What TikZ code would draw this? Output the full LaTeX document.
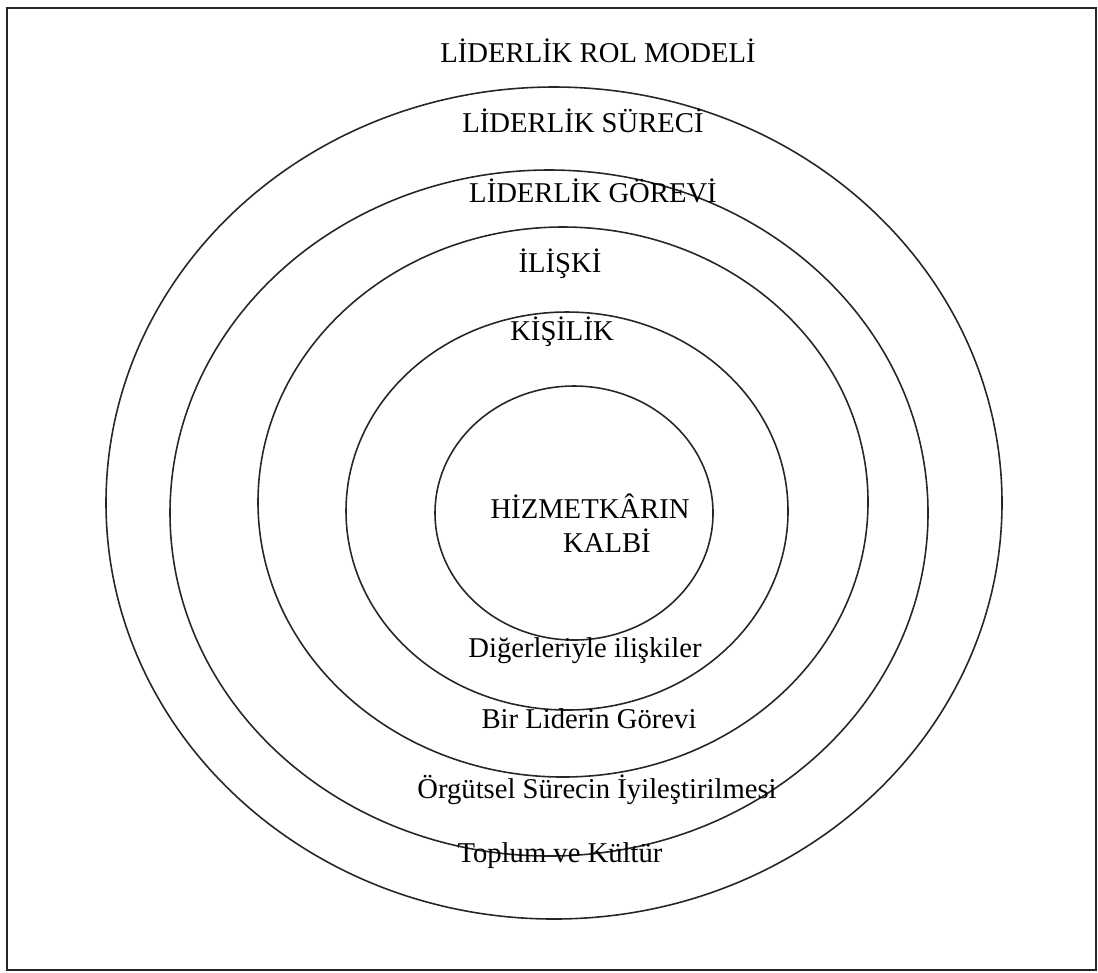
\documentclass[tikz,border=0pt]{standalone}
\usepackage{fontspec}
\setmainfont{Liberation Serif}
\usepackage{tikz}
\usetikzlibrary{calc}
\tikzset{
  ring/.style={draw=black!85, line width=0.45pt},
  frame/.style={draw=black!85, line width=0.6pt},
  lbl/.style={font=\fontsize{8.15}{9.8}\selectfont, text=black, anchor=base, inner sep=0pt},
}

\begin{document}
\begin{tikzpicture}[x=0.01cm, y=-0.01cm]
  \useasboundingbox (0,0) rectangle (1098,972);
  \draw[frame] (7,8) rectangle (1096,970);

  % Rings
  \draw[ring] (554,503) ellipse [x radius=448, y radius=416];
  \draw[ring] (549,513) ellipse [x radius=379, y radius=343];
  \draw[ring] (563,502) ellipse [x radius=305, y radius=275];
  \draw[ring] (567,511) ellipse [x radius=221, y radius=199];
  \draw[ring] (574,513) ellipse [x radius=139, y radius=127];

  % Upper labels
  \node[lbl] (rol) at (598,62) {LİDERLİK ROL MODELİ};
  \node[lbl] (surec) at (583,132) {LİDERLİK SÜRECİ};
  \node[lbl] (gorev) at (593,202) {LİDERLİK GÖREVİ};
  \node[lbl] (iliski) at (560,272) {İLİŞKİ};
  \node[lbl] (kisilik) at (562,340) {KİŞİLİK};

  % Core
  \node[lbl] (hizmet) at (590,518) {HİZMETKÂRIN};
  \node[lbl] (kalbi) at (607,552) {KALBİ};

  % Lower labels
  \node[lbl] (digerleri) at (585,657) {Diğerleriyle ilişkiler};
  \node[lbl] (lider) at (589,728) {Bir Liderin Görevi};
  \node[lbl] (orgut) at (597,798) {Örgütsel Sürecin İyileştirilmesi};
  \node[lbl] (toplum) at (560,862) {Toplum ve Kültür};
\end{tikzpicture}
\end{document}
